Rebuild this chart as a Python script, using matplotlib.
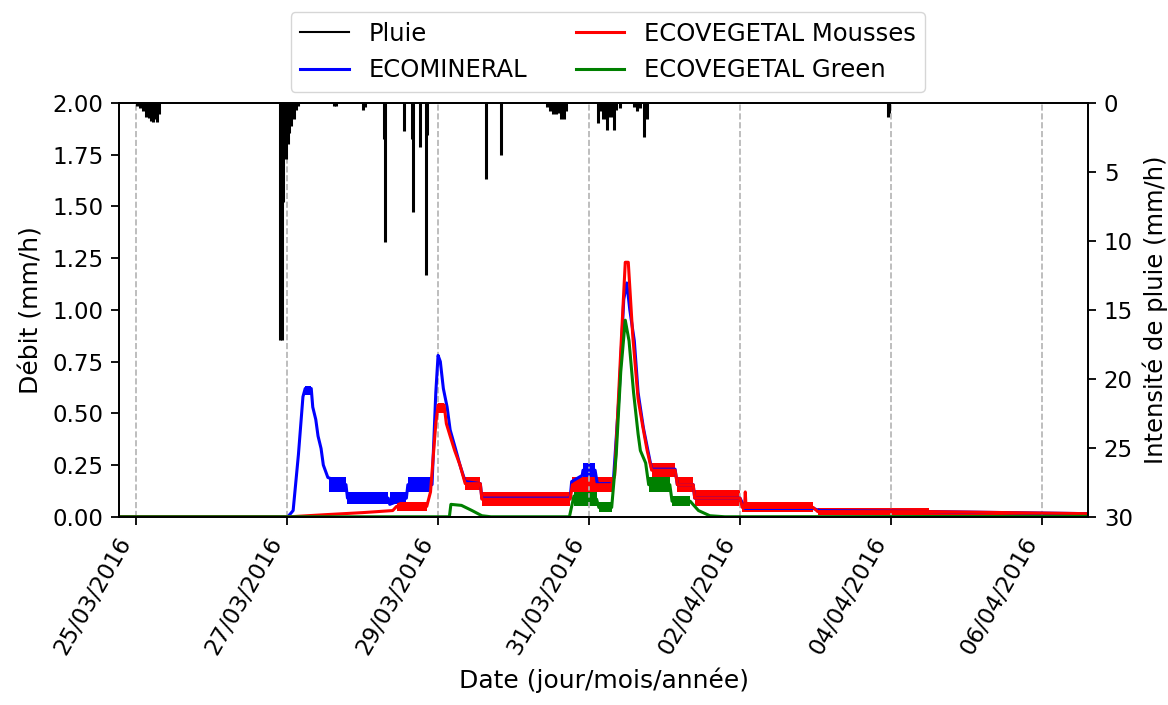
import numpy as np
import pandas as pd
import matplotlib
matplotlib.use("Agg")
import matplotlib.pyplot as plt
import matplotlib.dates as mdates

# Time is given in days after 25/03/2016 00:00
base = pd.Timestamp("2016-03-25")

# Rain intensity (mm/h), right axis (inverted)
rain_t = [0.01, 0.05, 0.09, 0.13, 0.17, 0.20, 0.23, 0.25, 0.28, 0.30,
          1.91, 1.93, 1.95, 1.98, 2.01, 2.03, 2.05, 2.09, 2.12, 2.15,
          2.62, 2.65, 3.01, 3.03, 3.28, 3.30, 3.55, 3.66, 3.67, 3.76, 3.84, 3.85,
          4.64, 4.83,
          5.44, 5.48, 5.52, 5.56, 5.60, 5.63, 5.67, 5.70,
          6.12, 6.16, 6.19, 6.22, 6.24, 6.26, 6.30, 6.33, 6.36, 6.41,
          6.60, 6.64, 6.68, 6.73, 6.77,
          9.96, 9.97]
rain_i = [0.2, 0.4, 0.6, 1.0, 1.1, 1.3, 1.4, 1.2, 1.4, 0.8,
          17.2, 17.2, 7.2, 4.1, 3.0, 2.2, 1.7, 1.2, 0.5, 0.2,
          0.2, 0.2, 0.5, 0.3, 2.6, 10.1, 2.0, 2.6, 7.9, 3.2, 12.5, 2.3,
          5.5, 3.8,
          0.3, 0.6, 0.8, 0.8, 0.7, 1.2, 1.2, 0.6,
          1.45, 0.6, 1.2, 1.2, 1.95, 1.0, 1.0, 1.95, 0.5, 0.4,
          0.3, 0.6, 0.4, 2.5, 1.2,
          1.0, 0.7]

# ECOMINERAL flow (mm/h)
min_t = [-0.225, 2.01, 2.08, 2.15, 2.21, 2.24, 2.32, 2.34, 2.38, 2.41, 2.45,
         2.48, 2.54, 2.78, 2.80, 3.34, 3.36, 3.58, 3.60, 3.92, 3.97, 4.00,
         4.03, 4.07, 4.12, 4.16, 4.23, 4.29, 4.36, 4.56, 4.58, 5.75, 5.77,
         5.91, 5.92, 6.08, 6.11, 6.32, 6.40, 6.46, 6.50, 6.54, 6.60, 6.65,
         6.72, 6.78, 6.83, 7.14, 7.17, 7.38, 7.40, 8.00, 8.07, 8.97, 9.06,
         10.52, 12.61]
min_q = [0, 0, 0.03, 0.30, 0.58, 0.62, 0.62, 0.53, 0.47, 0.39, 0.33,
         0.25, 0.19, 0.155, 0.09, 0.09, 0.06, 0.09, 0.155, 0.155, 0.60, 0.78,
         0.75, 0.62, 0.53, 0.42, 0.33, 0.25, 0.17, 0.16, 0.09, 0.09, 0.17,
         0.20, 0.225, 0.225, 0.16, 0.16, 0.60, 1.05, 1.13, 1.00, 0.85, 0.60,
         0.43, 0.32, 0.23, 0.23, 0.155, 0.155, 0.09, 0.09, 0.04, 0.04, 0.03,
         0.025, 0.015]
min_band_start = [2.24, 2.55, 2.80, 3.36, 3.60, 5.92]
min_band_end = [2.32, 2.78, 3.34, 3.58, 3.92, 6.08]
min_band_low = [0.59, 0.12, 0.06, 0.06, 0.12, 0.19]
min_band_high = [0.63, 0.19, 0.12, 0.12, 0.19, 0.26]

# ECOVEGETAL Mousses flow (mm/h)
mou_t = [-0.225, 2.04, 2.50, 3.00, 3.40, 3.45, 3.85, 3.90, 3.97, 4.00,
         4.08, 4.11, 4.16, 4.22, 4.29, 4.36, 4.56, 4.58, 5.75, 5.78, 6.30,
         6.34, 6.42, 6.48, 6.52, 6.58, 6.65, 6.71, 6.77, 6.83, 7.14, 7.17,
         7.38, 7.40, 8.00, 8.03, 8.06, 8.07, 8.08, 8.97, 9.03, 10.50, 12.61]
mou_q = [0, 0, 0.01, 0.02, 0.03, 0.05, 0.05, 0.12, 0.45, 0.54,
         0.54, 0.45, 0.39, 0.32, 0.25, 0.16, 0.16, 0.085, 0.085, 0.155, 0.155,
         0.20, 0.80, 1.23, 1.23, 0.87, 0.57, 0.44, 0.32, 0.225, 0.225, 0.155,
         0.155, 0.09, 0.09, 0.045, 0.045, 0.12, 0.045, 0.045, 0.025, 0.025, 0.015]
mou_band_start = [3.45, 4.00, 4.36, 4.58, 5.78, 6.83, 7.17, 7.40, 8.03, 9.03, 10.50]
mou_band_end = [3.85, 4.08, 4.56, 5.75, 6.30, 7.14, 7.38, 8.00, 8.97, 10.50, 12.61]
mou_band_low = [0.03, 0.50, 0.13, 0.05, 0.12, 0.19, 0.12, 0.05, 0.025, 0.01, 0.008]
mou_band_high = [0.07, 0.55, 0.19, 0.12, 0.19, 0.26, 0.19, 0.13, 0.07, 0.04, 0.025]

# ECOVEGETAL Green flow (mm/h)
gre_t = [-0.225, 4.15, 4.17, 4.31, 4.45, 4.58, 4.70, 5.74, 5.80, 5.90,
         6.10, 6.13, 6.30, 6.36, 6.42, 6.48, 6.53, 6.59, 6.65, 6.68, 6.75,
         6.79, 7.07, 7.10, 7.34, 7.45, 7.60, 7.80, 12.61]
gre_q = [0, 0, 0.06, 0.055, 0.03, 0.005, 0, 0, 0.10, 0.085,
         0.085, 0.045, 0.045, 0.30, 0.70, 0.95, 0.85, 0.60, 0.40, 0.32, 0.26,
         0.155, 0.155, 0.075, 0.075, 0.03, 0.005, 0, 0.002]
gre_band_start = [5.80, 6.13, 6.79, 7.10]
gre_band_end = [6.10, 6.30, 7.07, 7.34]
gre_band_low = [0.05, 0.025, 0.12, 0.05]
gre_band_high = [0.12, 0.07, 0.19, 0.10]

tick_days = [0, 2, 4, 6, 8, 10, 12]


def to_dates(days):
    return base + pd.to_timedelta(np.array(days, dtype=float), unit="D")


def draw_series(ax, t, q, bs, be, bl, bh, color, label):
    ax.plot(to_dates(t), q, color=color, lw=2.2, label=label)
    for s, e, lo, hi in zip(bs, be, bl, bh):
        ax.fill_between(to_dates([s, e]), [lo, lo], [hi, hi], color=color, lw=0)


# the reference looks like a default figure saved at a high dpi, so scale the
# tick/axis sizes up the same way as the fonts
plt.rcParams.update({
    "font.size": 16.5,
    "axes.linewidth": 1.3,
    "axes.labelpad": 6.5,
    "xtick.major.size": 5.7,
    "ytick.major.size": 5.7,
    "xtick.major.width": 1.3,
    "ytick.major.width": 1.3,
    "xtick.major.pad": 5.7,
    "ytick.major.pad": 5.7,
})
fig, ax = plt.subplots(figsize=(11.68, 7.05), dpi=100)
fig.subplots_adjust(left=0.102, right=0.9315, top=0.854, bottom=0.267)

draw_series(ax, min_t, min_q, min_band_start, min_band_end, min_band_low,
            min_band_high, "blue", "ECOMINERAL")
draw_series(ax, mou_t, mou_q, mou_band_start, mou_band_end, mou_band_low,
            mou_band_high, "red", "ECOVEGETAL Mousses")
draw_series(ax, gre_t, gre_q, gre_band_start, gre_band_end, gre_band_low,
            gre_band_high, "green", "ECOVEGETAL Green")

ax.set_ylim(0, 2.0)
ax.set_yticks(np.arange(0, 2.01, 0.25))
ax.set_ylabel("Débit (mm/h)", fontsize=18)
ax.set_xlabel("Date (jour/mois/année)", fontsize=18)
ax.set_xlim(to_dates([-0.225])[0], to_dates([12.61])[0])
ax.set_xticks(to_dates(tick_days))
ax.xaxis.set_major_formatter(mdates.DateFormatter("%d/%m/%Y"))
plt.setp(ax.get_xticklabels(), rotation=60, ha="right")
ax.grid(axis="x", linestyle="--", color="0.7", lw=1.2)

ax2 = ax.twinx()
ax2.vlines(to_dates(rain_t), 0, rain_i, color="black", lw=2.2)
ax2.plot([], [], color="black", label="Pluie")
ax2.set_ylim(30, 0)
ax2.set_yticks([0, 5, 10, 15, 20, 25, 30])
ax2.set_ylabel("Intensité de pluie (mm/h)", fontsize=17.5)

h1, l1 = ax2.get_legend_handles_labels()
h2, l2 = ax.get_legend_handles_labels()
fig.legend(h1 + h2, l1 + l2, loc="upper center", ncol=2,
           bbox_to_anchor=(0.5205, 1.0), fontsize=17.5)

fig.savefig("out.png", dpi=100)
